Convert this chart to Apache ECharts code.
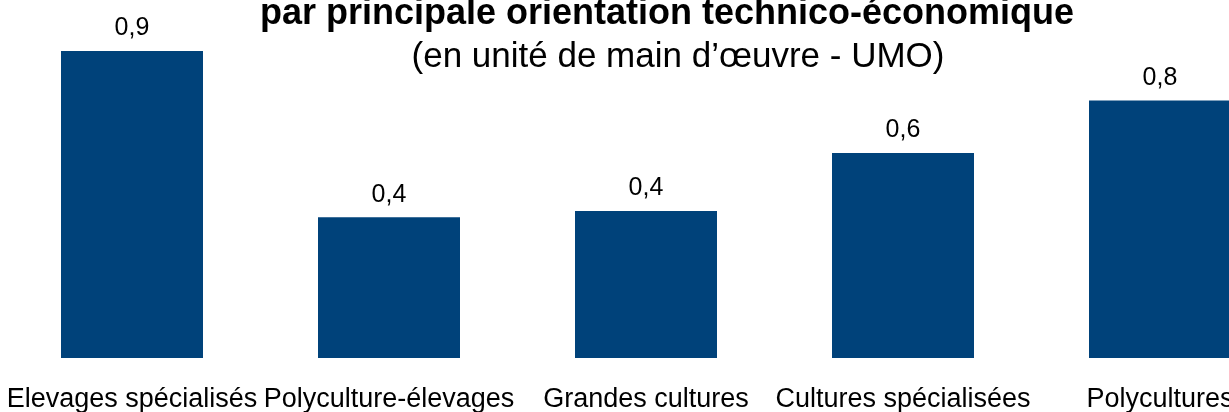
<!DOCTYPE html>
<html>
<head>
<meta charset="utf-8">
<script src="https://cdn.jsdelivr.net/npm/echarts@6/dist/echarts.min.js"></script>
<style>html,body{margin:0;padding:0;background:#fff;}#c{width:1229px;height:412px;}</style>
</head>
<body>
<div id="c"></div>
<script>
const titleLine = "par principale orientation technico-économique";
const subtitleLine = "(en unité de main d’œuvre - UMO)";
const categories = ["Elevages spécialisés", "Polyculture-élevages", "Grandes cultures", "Cultures spécialisées", "Polycultures"];
const values = [0.9, 0.413, 0.431, 0.601, 0.755];

const chart = echarts.init(document.getElementById('c'));
const font = '"Liberation Sans", Arial, sans-serif';
chart.setOption({
  animation: false,
  backgroundColor: '#ffffff',
  title: [
    { text: titleLine, left: 662, top: -9, textAlign: 'center',
      textStyle: { fontFamily: font, fontSize: 36, fontWeight: 'bold', color: '#000' } },
    { text: subtitleLine, left: 673, top: 35, textAlign: 'center',
      textStyle: { fontFamily: font, fontSize: 35, fontWeight: 'normal', color: '#000' } }
  ],
  grid: { left: 132, top: 17, width: 1028, height: 341, outerBoundsMode: 'none', containLabel: false },
  xAxis: {
    type: 'category', data: categories, boundaryGap: false,
    axisLine: { show: false }, axisTick: { show: false }, splitLine: { show: false },
    axisLabel: { fontFamily: font, fontSize: 27, color: '#000', margin: 28, interval: 0, hideOverlap: false }
  },
  yAxis: { type: 'value', min: 0, max: 1, show: false, splitLine: { show: false } },
  series: [{
    type: 'bar', data: values, barWidth: 142, clip: false,
    itemStyle: { color: '#00427a' },
    label: { show: true, position: 'top', distance: 10, fontFamily: font, fontSize: 25, color: '#000',
      formatter: p => p.value.toFixed(1).replace('.', ',') }
  }]
});
</script>
</body>
</html>
